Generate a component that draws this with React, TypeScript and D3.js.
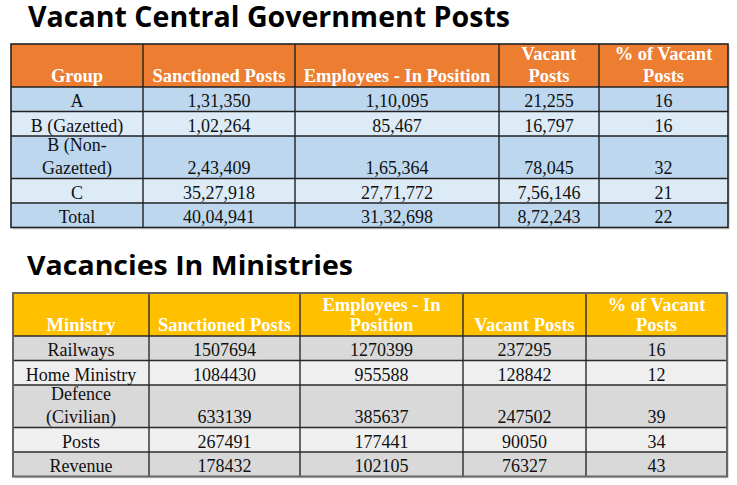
import React from "react";
import * as d3 from "d3";

// ---------- DATA ----------
const groupHeaders = [["Group"], ["Sanctioned Posts"], ["Employees - In Position"], ["Vacant", "Posts"], ["% of Vacant", "Posts"]];
const groups = [["A"], ["B (Gazetted)"], ["B (Non-", "Gazetted)"], ["C"], ["Total"]];
const groupSanctioned = [131350, 102264, 243409, 3527918, 4004941];
const groupInPosition = [110095, 85467, 165364, 2771772, 3132698];
const groupVacant = [21255, 16797, 78045, 756146, 872243];
const groupPct = [16, 16, 32, 21, 22];

const ministryHeaders = [["Ministry"], ["Sanctioned Posts"], ["Employees - In", "Position"], ["Vacant Posts"], ["% of Vacant", "Posts"]];
const ministries = [["Railways"], ["Home Ministry"], ["Defence", "(Civilian)"], ["Posts"], ["Revenue"]];
const ministrySanctioned = [1507694, 1084430, 633139, 267491, 178432];
const ministryInPosition = [1270399, 955588, 385637, 177441, 102105];
const ministryVacant = [237295, 128842, 247502, 90050, 76327];
const ministryPct = [16, 12, 39, 34, 43];

// ---------- HELPERS ----------
function fmtIN(n: number): string {
  const s = String(n);
  if (s.length <= 3) return s;
  const last3 = s.slice(-3);
  let rest = s.slice(0, -3);
  const parts: string[] = [];
  while (rest.length > 2) {
    parts.unshift(rest.slice(-2));
    rest = rest.slice(0, -2);
  }
  if (rest.length) parts.unshift(rest);
  return parts.join(",") + "," + last3;
}

type TableProps = {
  left: number;
  top: number;
  colWidths: number[];
  headerHeight: number;
  headers: string[][];
  rows: string[][][];
  headerFill: string;
  rowFills: string[];
  borderColor: string;
  outerColor: string;
  outerWidth: number;
  headerLH: number;
  bodyLH: number;
};

const SERIF = "'Liberation Serif', 'Times New Roman', serif";

function Table(p: TableProps) {
  const xs = [p.left, ...Array.from(d3.cumsum(p.colWidths)).map((w) => p.left + w)];
  const rowHeights = p.rows.map((r) => (d3.max(r, (c) => c.length) as number) > 1 ? 42.5 : 24.5);
  const ys = [p.top, p.top + p.headerHeight, ...Array.from(d3.cumsum(rowHeights)).map((h) => p.top + p.headerHeight + h)];
  const right = xs[xs.length - 1];
  const bottom = ys[ys.length - 1];
  const cx = (i: number) => (xs[i] + xs[i + 1]) / 2;

  return (
    <g>
      {/* shadow */}
      <rect x={p.left + 2} y={p.top + 2} width={right - p.left} height={bottom - p.top} fill="#c8c8c8" opacity={0.6} />
      <rect x={p.left} y={p.top} width={right - p.left} height={p.headerHeight} fill={p.headerFill} />
      {rowHeights.map((h, r) => (
        <rect key={r} x={p.left} y={ys[r + 1]} width={right - p.left} height={h} fill={p.rowFills[r % p.rowFills.length]} />
      ))}
      {/* inner lines */}
      {ys.slice(1, -1).map((y, i) => (
        <line key={"h" + i} x1={p.left} x2={right} y1={y} y2={y} stroke={p.borderColor} strokeWidth={1.4} />
      ))}
      {xs.slice(1, -1).map((x, i) => (
        <line key={"v" + i} x1={x} x2={x} y1={p.top} y2={bottom} stroke={p.borderColor} strokeWidth={1.4} />
      ))}
      <rect x={p.left} y={p.top} width={right - p.left} height={bottom - p.top} fill="none" stroke={p.outerColor} strokeWidth={p.outerWidth} />
      {/* header text */}
      {p.headers.map((lines, c) => (
        <text key={"ht" + c} textAnchor="middle" fontFamily={SERIF} fontWeight="bold" fontSize={18.5} fill="#ffffff">
          {lines.map((ln, k) => (
            <tspan key={k} x={cx(c)} y={ys[1] - 5 - (lines.length - 1 - k) * p.headerLH}>{ln}</tspan>
          ))}
        </text>
      ))}
      {/* body text */}
      {p.rows.map((row, r) =>
        row.map((lines, c) => (
          <text key={r + "-" + c} textAnchor="middle" fontFamily={SERIF} fontSize={18} fill="#111">
            {lines.map((ln, k) => (
              <tspan key={k} x={cx(c)} y={ys[r + 2] - 4.5 - (lines.length - 1 - k) * p.bodyLH}>{ln}</tspan>
            ))}
          </text>
        ))
      )}
    </g>
  );
}

export default function App() {
  const rows1 = groups.map((g, i) => [g, [fmtIN(groupSanctioned[i])], [fmtIN(groupInPosition[i])], [fmtIN(groupVacant[i])], [String(groupPct[i])]]);
  const rows2 = ministries.map((m, i) => [m, [String(ministrySanctioned[i])], [String(ministryInPosition[i])], [String(ministryVacant[i])], [String(ministryPct[i])]]);

  return (
    <div style={{ position: "fixed", left: 0, top: 0 }}>
      <svg width={737} height={485} style={{ display: "block", background: "#ffffff" }}>
        <text x={28} y={26.5} fontFamily="'Open Sans', sans-serif" fontWeight="bold" fontSize={28.8} fill="#000" textLength={482} lengthAdjust="spacingAndGlyphs">
          Vacant Central Government Posts
        </text>
        <Table
          left={11}
          top={44}
          colWidths={[132, 152, 204, 100, 129]}
          headerHeight={43}
          headers={groupHeaders}
          rows={rows1}
          headerFill="#ED7D31"
          rowFills={["#BDD7EE", "#DDEBF7"]}
          borderColor="#222"
          outerColor="#222"
          outerWidth={1.6}
          headerLH={22}
          bodyLH={23}
        />
        <text x={27} y={275} fontFamily="'Open Sans', sans-serif" fontWeight="bold" fontSize={26.5} fill="#000" textLength={326} lengthAdjust="spacingAndGlyphs">
          Vacancies In Ministries
        </text>
        <Table
          left={13}
          top={293}
          colWidths={[136, 151, 163, 123, 141]}
          headerHeight={43}
          headers={ministryHeaders}
          rows={rows2}
          headerFill="#FFC000"
          rowFills={["#D9D9D9", "#EFEFEF"]}
          borderColor="#2a2a2a"
          outerColor="#666"
          outerWidth={2}
          headerLH={20}
          bodyLH={23}
        />
      </svg>
    </div>
  );
}
